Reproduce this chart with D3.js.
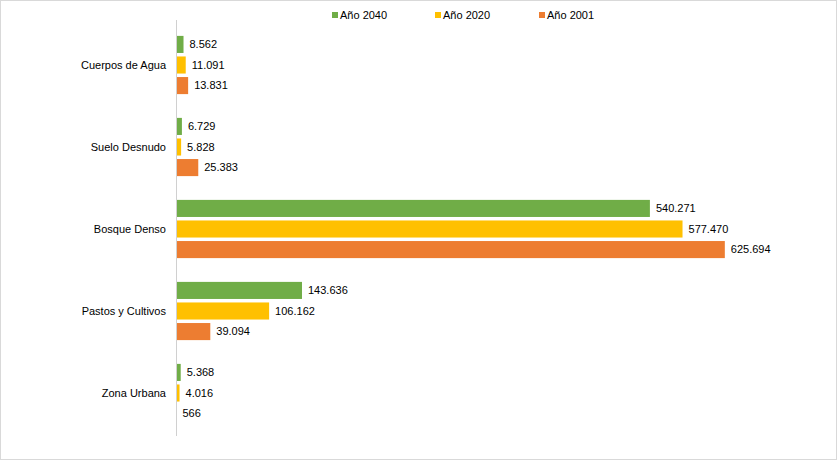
<!DOCTYPE html>
<html><head><meta charset="utf-8">
<script src="https://cdn.jsdelivr.net/npm/d3@7"></script>
<style>body{margin:0;background:#fff;}svg{display:block;font-family:"Liberation Sans",Arial,sans-serif;}</style>
</head><body><svg id="c" width="837" height="460"></svg>
<script>
const categories = ["Cuerpos de Agua","Suelo Desnudo","Bosque Denso","Pastos y Cultivos","Zona Urbana"];
const seriesNames = ["Año 2040","Año 2020","Año 2001"];
const seriesColors = ["#70ad47","#ffc000","#ed7d31"];
const v2040 = [8562, 6729, 540271, 143636, 5368];
const v2020 = [11091, 5828, 577470, 106162, 4016];
const v2001 = [13831, 25383, 625694, 39094, 566];
const seriesValues = [v2040, v2020, v2001];
const labelFmt = v => d3.format(",")(v).replace(/,/g, ".");

(function(){
const svg = d3.select("#c");
svg.append("rect").attr("x",0.5).attr("y",0.5).attr("width",836).attr("height",459)
  .attr("fill","#fff").attr("stroke","#d9d9d9");

const mLeft = 176, mRight = 790, mTop = 24, mBottom = 434;
const x = d3.scaleLinear().domain([0,700000]).range([mLeft,mRight]);
const y = d3.scaleBand().domain(categories).range([mTop,mBottom]).paddingInner(0.29).paddingOuter(0.145);
const ys = d3.scaleBand().domain(seriesNames).range([0,y.bandwidth()]).paddingInner(0.17);

const data = [];
categories.forEach((c,i)=>seriesNames.forEach((s,j)=>data.push({c,s,j,v:seriesValues[j][i]})));

svg.append("g").selectAll("rect").data(data).join("rect")
  .attr("x", x(0)).attr("y", d=>y(d.c)+ys(d.s))
  .attr("width", d=>x(d.v)-x(0)).attr("height", ys.bandwidth())
  .attr("fill", d=>seriesColors[d.j]);

svg.append("g").selectAll("text").data(data).join("text")
  .attr("x", d=>x(d.v)+6).attr("y", d=>y(d.c)+ys(d.s)+ys.bandwidth()/2)
  .attr("dy","0.35em").attr("font-size",11).attr("fill","#000")
  .text(d=>labelFmt(d.v));

svg.append("line").attr("x1",mLeft+0.5).attr("x2",mLeft+0.5).attr("y1",mTop-4).attr("y2",mBottom+2)
  .attr("stroke","#d0d0d0");

const ax = d3.axisLeft(y).tickSize(0).tickPadding(10);
const g = svg.append("g").attr("transform",`translate(${mLeft},0)`).call(ax);
g.select(".domain").remove();
g.selectAll("text").attr("font-size",11).attr("fill","#000").attr("font-family","Liberation Sans, Arial, sans-serif");

const legX = [332, 435, 539];
const leg = svg.append("g");
seriesNames.forEach((s,j)=>{
  leg.append("rect").attr("x",legX[j]).attr("y",12).attr("width",6).attr("height",6).attr("fill",seriesColors[j]);
  leg.append("text").attr("x",legX[j]+8).attr("y",15).attr("dy","0.35em").attr("font-size",11).text(s);
});
})();
</script></body></html>
